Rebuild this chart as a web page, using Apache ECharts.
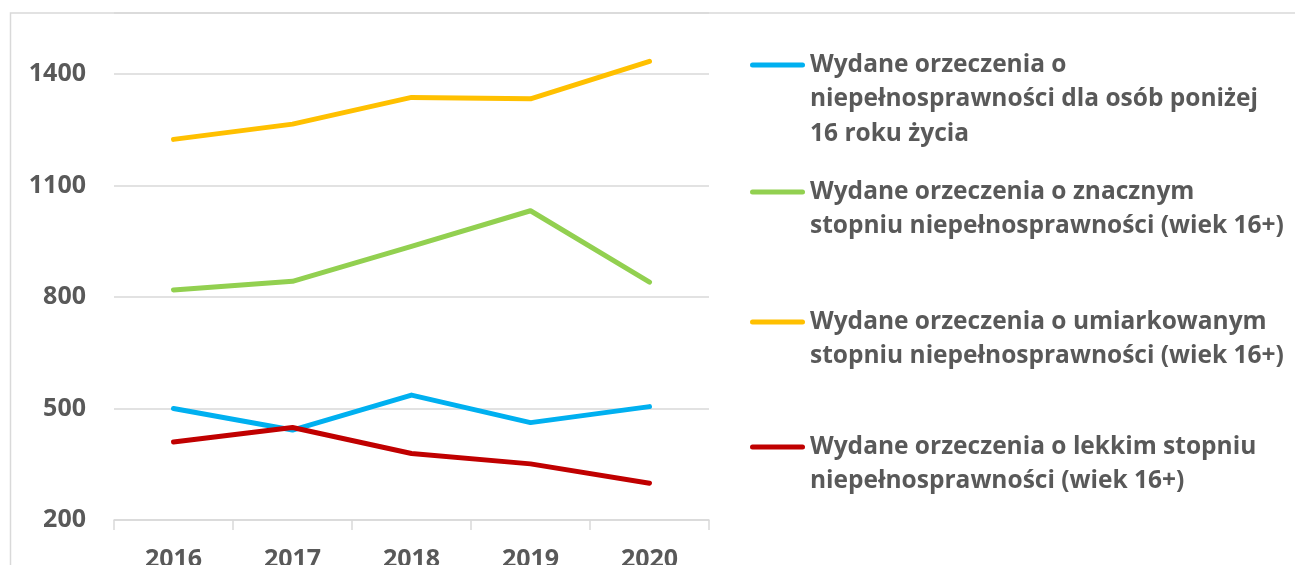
<!DOCTYPE html>
<html>
<head>
<meta charset="utf-8">
<script src="https://cdn.jsdelivr.net/npm/echarts@6/dist/echarts.min.js"></script>
<style>
html,body{margin:0;padding:0;background:#fff;}
#chart{width:1295px;height:565px;}
</style>
</head>
<body>
<div id="chart"></div>
<script>
const years = ['2016', '2017', '2018', '2019', '2020'];
const seriesNames = [
  'Wydane orzeczenia o niepełnosprawności dla osób poniżej 16 roku życia',
  'Wydane orzeczenia o znacznym stopniu niepełnosprawności (wiek 16+)',
  'Wydane orzeczenia o umiarkowanym stopniu niepełnosprawności (wiek 16+)',
  'Wydane orzeczenia o lekkim stopniu niepełnosprawności (wiek 16+)'
];
const legendLines = [
  ['Wydane orzeczenia o', 'niepełnosprawności dla osób poniżej', '16 roku życia'],
  ['Wydane orzeczenia o znacznym', 'stopniu niepełnosprawności (wiek 16+)'],
  ['Wydane orzeczenia o umiarkowanym', 'stopniu niepełnosprawności (wiek 16+)'],
  ['Wydane orzeczenia o lekkim stopniu', 'niepełnosprawności (wiek 16+)']
];
const under16 = [500, 442, 536, 462, 505];
const znaczny = [819, 842, 936, 1032, 840];
const umiarkowany = [1224, 1265, 1337, 1333, 1434];
const lekki = [410, 449, 379, 351, 299];
const yTicks = [200, 500, 800, 1100, 1400];
const yTop = 1564; // visible top of the plot (cropped)

const colors = ['#00b0f0', '#92d050', '#ffc000', '#c00000'];
const values = [under16, znaczny, umiarkowany, lekki];
const legendIconY = [65, 192, 322, 447];
const LH = 34.5;
const FONT = '"Open Sans", Lato, sans-serif';
const TXT = '#595959';

function iconPath(nLines) {
  const c = LH / 2, H = nLines * LH, r = 2.5;
  return 'path://M0,0L0,0 M0,' + H + 'L0,' + H +
    ' M' + r + ',' + (c - r) + ' H' + (55 - r) +
    ' A' + r + ',' + r + ' 0 0 1 ' + (55 - r) + ',' + (c + r) +
    ' H' + r + ' A' + r + ',' + r + ' 0 0 1 ' + r + ',' + (c - r) + ' Z';
}

const chart = echarts.init(document.getElementById('chart'));
chart.setOption({
  backgroundColor: '#ffffff',
  animation: false,
  graphic: [{
    type: 'rect', silent: true, z: -10,
    shape: { x: 10.5, y: 13, width: 1500, height: 700 },
    style: { fill: 'none', stroke: '#d9d9d9', lineWidth: 1.5 }
  }],
  grid: {
    left: 114, right: 586, top: 13, bottom: 45,
    containLabel: false, outerBoundsMode: 'none'
  },
  legend: seriesNames.map((name, i) => ({
    data: [name],
    left: 750,
    top: legendIconY[i] - LH / 2,
    padding: 0,
    orient: 'vertical',
    selectedMode: false,
    itemWidth: 55,
    itemHeight: legendLines[i].length * LH,
    icon: iconPath(legendLines[i].length),
    itemStyle: { color: colors[i], borderWidth: 0 },
    formatter: () => legendLines[i].join('\n'),
    textStyle: {
      fontFamily: FONT, fontWeight: 'bold', fontSize: 24.5,
      color: TXT, lineHeight: LH
    }
  })),
  xAxis: {
    type: 'category',
    data: years,
    boundaryGap: true,
    axisLine: { lineStyle: { color: '#d9d9d9', width: 1.5 } },
    axisTick: { show: true, length: 10, lineStyle: { color: '#d9d9d9', width: 1.5 } },
    axisLabel: {
      margin: 27, fontFamily: FONT, fontWeight: 'bold', fontSize: 25, color: TXT
    },
    splitLine: { show: false }
  },
  yAxis: {
    type: 'value',
    min: yTicks[0],
    max: yTop,
    interval: yTicks[1] - yTicks[0],
    axisLine: { show: false },
    axisTick: { show: false },
    axisLabel: {
      margin: 28, fontFamily: FONT, fontWeight: 'bold', fontSize: 25, color: TXT,
      showMaxLabel: false,
      formatter: v => (yTicks.indexOf(v) >= 0 ? String(v) : '')
    },
    splitLine: { lineStyle: { color: '#d9d9d9', width: 1.5 } }
  },
  series: seriesNames.map((name, i) => ({
    name: name,
    type: 'line',
    data: values[i],
    showSymbol: false,
    symbol: 'none',
    color: colors[i],
    lineStyle: { width: 5, color: colors[i], cap: 'round', join: 'round' }
  }))
});
</script>
</body>
</html>
